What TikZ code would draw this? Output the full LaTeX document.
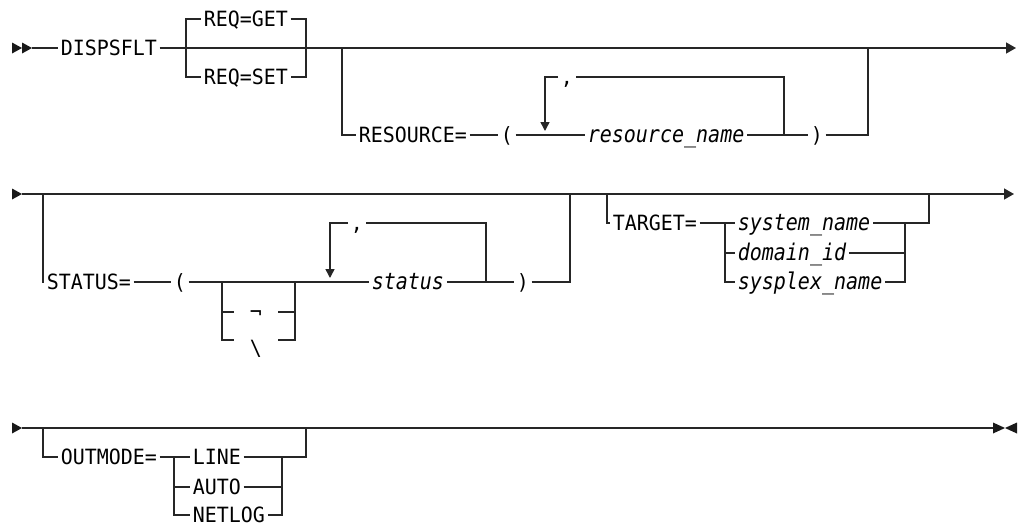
\documentclass[tikz,border=0pt]{standalone}
\usepackage{fontspec}
\newfontfamily\railfont[FakeStretch=0.95]{DejaVu Sans Mono}
\newfontfamily\railitfont[FakeStretch=0.87]{DejaVu Sans Mono}
\usetikzlibrary{arrows.meta}

\tikzset{
  kwtext/.style={anchor=west, font=\railfont\fontsize{10.5}{12}\selectfont,
    inner xsep=1pt, inner ysep=0pt, text height=7.6pt, text depth=0pt, text=black},
  vartext/.style={kwtext, font=\railitfont\itshape\fontsize{11.5}{13}\selectfont},
  optbox/.style={kwtext, anchor=center, minimum width=21.5pt},
  endtip/.style={-{Triangle[length=5pt,width=5.5pt]}},
  looptip/.style={-{Triangle[length=4.5pt,width=4.5pt]}, shorten >=2pt},
}

\begin{document}
\begin{tikzpicture}[x=0.5pt, y=-0.5pt, line width=0.75pt, draw=black!85, fill=black!90]
    \useasboundingbox (0,0) rectangle (1019,525);

    % Row 1: command name and request
    \fill (12,42.5) -- (22,48) -- (12,53.5) -- cycle;
    \fill (22,42.5) -- (32,48) -- (22,53.5) -- cycle;
    \coordinate (r1s) at (32,48);
    \coordinate (r1e) at (1016,48);
    \node[kwtext] (dispsflt) at (58,48) {DISPSFLT};
    \node[kwtext] (reqget) at (201,19) {REQ=GET};
    \node[kwtext] (reqset) at (201,77) {REQ=SET};
    \coordinate (q1) at (186,48);
    \coordinate (q2) at (306,48);
    \draw (r1s) -- (dispsflt.west);
    \draw[endtip] (dispsflt.east) -- (r1e);
    \draw (reqget.west) -- (q1 |- reqget.west) -- (q1 |- reqset.west) -- (reqset.west);
    \draw (reqget.east) -- (q2 |- reqget.east) -- (q2 |- reqset.east) -- (reqset.east);

    % RESOURCE= branch with repeat loop
    \coordinate (rb1) at (342,48);
    \coordinate (rb2) at (868,48);
    \node[kwtext] (resource) at (356,135) {RESOURCE=};
    \node[kwtext] (rlp) at (498,135) {(};
    \node[vartext] (rname) at (585,135) {resource\_name};
    \node[kwtext] (rrp) at (808,135) {)};
    \node[kwtext] (rcomma) at (558,77) {,};
    \coordinate (rl1) at (545,135);
    \coordinate (rl2) at (784,135);
    \draw (rb1) |- (resource.west);
    \draw (resource.east) -- (rlp.west);
    \draw (rlp.east) -- (rname.west);
    \draw (rname.east) -- (rrp.west);
    \draw (rrp.east) -| (rb2);
    \draw (rl2) |- (rcomma.east);
    \draw[looptip] (rcomma.west) -| (rl1);

    % Row 2: STATUS= and TARGET=
    \fill (12,188.5) -- (22,194) -- (12,199.5) -- cycle;
    \coordinate (r2s) at (22,194);
    \coordinate (r2e) at (1014,194);
    \draw[endtip] (r2s) -- (r2e);

    \coordinate (sb1) at (43,194);
    \coordinate (sb2) at (570,194);
    \node[kwtext] (status) at (44,282) {STATUS=};
    \node[kwtext] (slp) at (171,282) {(};
    \node[vartext] (statval) at (369,282) {status};
    \node[kwtext] (srp) at (514,282) {)};
    \node[kwtext] (scomma) at (348,223) {,};
    \coordinate (sl1) at (330,282);
    \coordinate (sl2) at (486,282);
    \draw (sb1) |- (status.west);
    \draw (status.east) -- (slp.west);
    \draw (slp.east) -- (statval.west);
    \draw (statval.east) -- (srp.west);
    \draw (srp.east) -| (sb2);
    \draw (sl2) |- (scomma.east);
    \draw[looptip] (scomma.west) -| (sl1);

    % optional negation signs
    \coordinate (nb1) at (222,282);
    \coordinate (nb2) at (295,282);
    \node[optbox] (notsign) at (256,312) {¬};
    \node[optbox] (bslash) at (256,340) {\raisebox{-4pt}{\textbackslash}};
    \draw (nb1) |- (bslash.west);
    \draw (nb1 |- notsign.west) -- (notsign.west);
    \draw (nb2) |- (bslash.east);
    \draw (nb2 |- notsign.east) -- (notsign.east);

    \coordinate (tb1) at (607,194);
    \coordinate (tb2) at (929,194);
    \coordinate (tc1) at (725,223);
    \coordinate (tc2) at (905,223);
    \node[kwtext] (target) at (610,223) {TARGET=};
    \node[vartext] (sysname) at (735,223) {system\_name};
    \node[vartext] (domid) at (735,253) {domain\_id};
    \node[vartext] (plexname) at (735,282) {sysplex\_name};
    \draw (tb1) |- (target.west);
    \draw (target.east) -- (sysname.west);
    \draw (sysname.east) -| (tb2);
    \draw (tc1) |- (plexname.west);
    \draw (tc1 |- domid.west) -- (domid.west);
    \draw (tc2) |- (plexname.east);
    \draw (domid.east) -- (tc2 |- domid.east);

    % Row 3: OUTMODE=
    \fill (12,422.5) -- (22,428) -- (12,433.5) -- cycle;
    \coordinate (r3s) at (22,428);
    \coordinate (r3e) at (993,428);
    \draw (r3s) -- (r3e);
    \fill (993,422.5) -- (1005,428) -- (993,433.5) -- cycle;
    \fill (1017,422.5) -- (1005,428) -- (1017,433.5) -- cycle;

    \coordinate (ob1) at (43,428);
    \coordinate (ob2) at (306,428);
    \coordinate (oc1) at (174,457);
    \coordinate (oc2) at (282,457);
    \node[kwtext] (outmode) at (58,457) {OUTMODE=};
    \node[kwtext] (omline) at (190,457) {LINE};
    \node[kwtext] (omauto) at (190,487) {AUTO};
    \node[kwtext] (omnetlog) at (190,515) {NETLOG};
    \draw (ob1) |- (outmode.west);
    \draw (outmode.east) -- (omline.west);
    \draw (omline.east) -| (ob2);
    \draw (oc1) |- (omnetlog.west);
    \draw (oc1 |- omauto.west) -- (omauto.west);
    \draw (oc2) |- (omnetlog.east);
    \draw (omauto.east) -- (oc2 |- omauto.east);
\end{tikzpicture}
\end{document}
